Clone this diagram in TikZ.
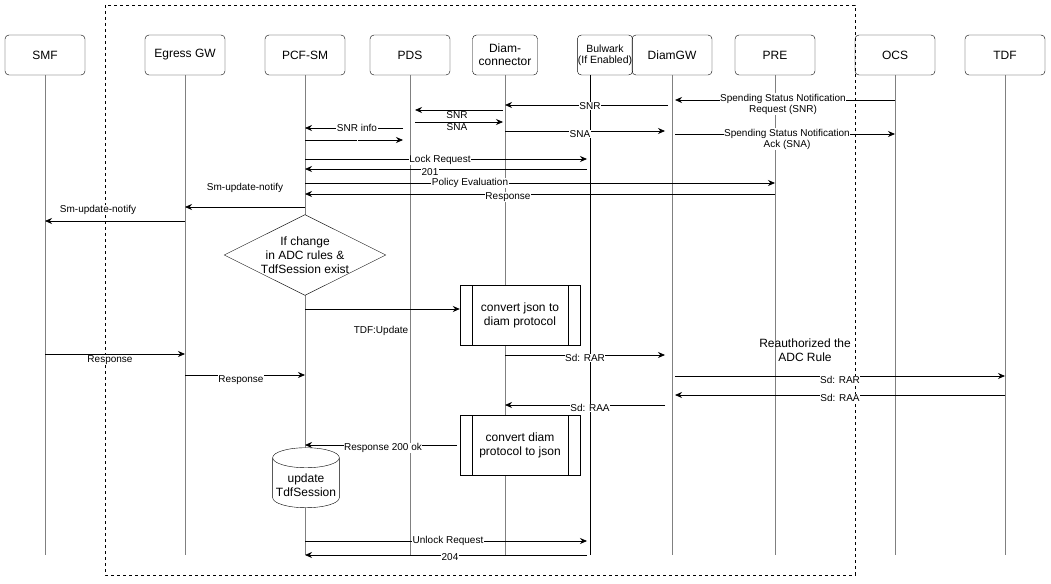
\documentclass[tikz,border=0pt]{standalone}
\usepackage{fontspec}
\setmainfont{Liberation Sans}
\usetikzlibrary{shapes.geometric,arrows.meta}
\begin{document}
\begin{tikzpicture}[x=1pt,y=-1pt,
 hdr/.style={draw,rounded corners=4pt,minimum height=40pt,font=\fontsize{12}{13}\selectfont,align=center,inner sep=1pt},
 life/.style={draw=gray,line width=1pt},
 msg/.style={-{Stealth[length=7pt,width=6pt]},line width=0.8pt},
 lbl/.style={fill=white,inner sep=0.5pt,font=\fontsize{10}{11}\selectfont,align=center},
 proc/.style={draw,minimum width=120pt,minimum height=60pt,font=\fontsize{12}{14}\selectfont,align=center}]
\useasboundingbox (0,0) rectangle (1051,583);
\draw[dashed] (105,5) rectangle (855,575);
\foreach \n/\x/\w/\t in {smf/45/80/SMF,egw/185/80/Egress GW,pcf/305/80/PCF-SM,pds/410/80/PDS,dia/505/65/{Diam-\\connector},dgw/672/80/DiamGW,pre/775/80/PRE,ocs/895/80/OCS,tdf/1005/80/TDF}{
 \node[hdr,minimum width=\w pt] (\n) at (\x,55) {\t};
 \coordinate (\n e) at (\x,555);
}
\node[hdr,minimum width=42pt,font=\fontsize{10.5}{11}\selectfont,inner sep=0.5pt] (bul) at (605,55) {Bulwark\\(If Enabled)};
\foreach \n in {smf,egw,pcf,pds,dia,dgw,pre,ocs,tdf}{\draw[life] (\n) -- (\n e);}
\coordinate (bt) at (590,75); \coordinate (bb) at (590,555);
\draw[line width=0.8pt] (bt) -- (bb);
% messages
\newcommand{\mymsg}[5]{\coordinate (s) at (#1,#3); \coordinate (t) at (#2,#3); \draw[msg] (s) -- (t); \node[lbl] at (#4) {#5};}
\mymsg{895}{675}{100}{783,104}{Spending Status Notification\\Request (SNR)}
\mymsg{668}{505}{105}{590,106}{SNR}
\mymsg{503}{415}{110}{457,115}{SNR}
\mymsg{415}{503}{122}{457,127}{SNA}
\mymsg{403}{305}{128}{357,128}{SNR info}
\mymsg{305}{403}{140}{357,140}{}
\mymsg{505}{665}{131}{580,134}{SNA}
\mymsg{675}{895}{134}{787,139}{Spending Status Notification\\Ack (SNA)}
\mymsg{305}{587}{159}{440,160}{Lock Request}
\mymsg{587}{305}{169}{430,172}{201}
\mymsg{305}{775}{183}{470,183}{Policy Evaluation}
\mymsg{775}{305}{194}{508,197}{Response}
\mymsg{305}{185}{207}{245,188}{Sm-update-notify}
\mymsg{185}{45}{221}{98,210}{Sm-update-notify}
\node[diamond,draw,fill=white,minimum width=160pt,minimum height=80pt,aspect=2,inner sep=0pt,align=center,font=\fontsize{12}{14}\selectfont] (dec) at (305,255) {If change\\in ADC rules \&\\TdfSession exist};
\node[proc,fill=white] (p1) at (520,315) {convert json to\\diam protocol};
\draw (472,285) -- (472,345) (568,285) -- (568,345);
\coordinate (d1) at (305,309); \draw[msg] (d1) -- (p1.west |- d1);
\node[lbl] at (381,331) {TDF:Update};
\mymsg{505}{665}{355}{585,358}{Sd: RAR}
\node[font=\fontsize{12}{14}\selectfont,align=center] (ra) at (805,350) {Reauthorized the\\ADC Rule};
\mymsg{675}{1005}{376}{840,380}{Sd: RAR}
\mymsg{1005}{675}{395}{840,398}{Sd: RAA}
\mymsg{665}{505}{405}{590,408}{Sd: RAA}
\mymsg{45}{185}{354}{110,360}{Response}
\mymsg{185}{305}{375}{241,380}{Response}
\node[proc,fill=white] (p2) at (520,445) {convert diam\\protocol to json};
\draw (472,415) -- (472,475) (568,415) -- (568,475);
\mymsg{457}{305}{445}{383,448}{Response 200 ok}
\node[cylinder,shape border rotate=90,draw,fill=white,minimum width=60pt,minimum height=60pt,aspect=0.3,align=center,font=\fontsize{12}{14}\selectfont] (db) at (306,485) {update\\TdfSession};
\mymsg{305}{587}{541}{448,541}{Unlock Request}
\mymsg{587}{305}{555}{450,557}{204}
\end{tikzpicture}
\end{document}
